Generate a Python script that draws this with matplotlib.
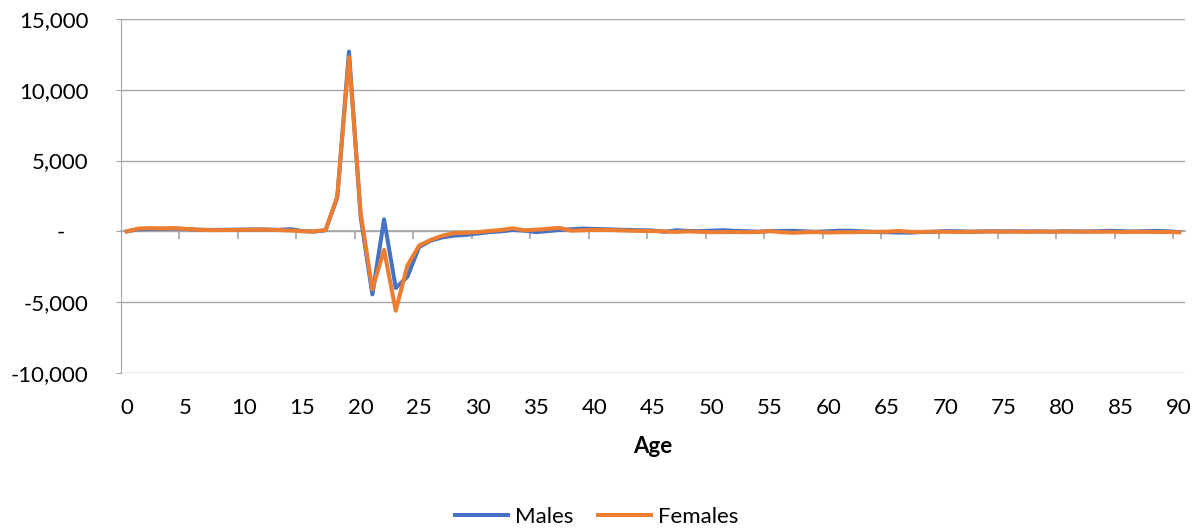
import numpy as np
import matplotlib
matplotlib.use("Agg")
import matplotlib.pyplot as plt
from matplotlib.ticker import FuncFormatter, MultipleLocator, FixedLocator

plt.rcParams['font.family'] = ['Lato', 'DejaVu Sans']

ages = list(range(0, 91))

males = [0, 150, 170, 180, 200, 170, 120, 100, 110, 120,
         130, 140, 130, 110, 160, 20, -20, 80, 2400, 12700,
         1000, -4450, 850, -4000, -3200, -1100, -650, -420, -300, -250,
         -150, -50, 0, 100, 50, -50, 20, 100, 150, 200,
         170, 150, 120, 100, 80, 60, -30, 80, 30, 20,
         50, 80, 40, 10, -20, 20, 30, 40, 0, -30,
         10, 50, 40, 0, -40, -60, -80, -90, -40, -30,
         20, 10, -20, -10, 10, 0, 10, -10, 0, -20,
         10, 0, -10, 10, 40, 20, -10, 10, 30, 10,
         -50]

females = [0, 200, 230, 210, 230, 180, 120, 90, 90, 100,
           110, 120, 120, 90, 60, 10, 0, 100, 2450, 12300,
           1300, -4100, -1300, -5600, -2400, -1000, -600, -300, -120, -100,
           -50, 30, 100, 220, 80, 120, 180, 250, 50, 80,
           100, 100, 80, 50, 30, 20, 0, -40, 0, -30,
           -60, -50, -40, -60, -40, 20, -60, -100, -60, -50,
           -80, -60, -60, -40, -30, -20, 30, -30, -40, -20,
           -30, -40, -30, -20, -10, -20, -20, -30, -10, -20,
           -20, -10, -20, -30, -20, -40, -30, -30, -40, -40,
           -60]

grid_col = '#a6a6a6'
fs = 16

fig = plt.figure(figsize=(11.93, 5.32), dpi=100)
ax = fig.add_axes([0.1014, 0.2989, 0.8919, 0.6654])

ax.plot(ages, males, color='#4472C4', lw=2.9, label='Males', solid_joinstyle='round')
ax.plot(ages, females, color='#ED7D31', lw=2.9, label='Females', solid_joinstyle='round')

ax.set_xlim(-0.5, 90.5)
ax.set_ylim(-10000, 15000)
ax.yaxis.set_major_locator(MultipleLocator(5000))

def yfmt(v, pos):
    if abs(v) < 1e-9:
        return '-    '
    return f'{v:,.0f}'

ax.yaxis.set_major_formatter(FuncFormatter(yfmt))
ax.grid(axis='y', color=grid_col, lw=1.0)
ax.set_axisbelow(True)

for s in ['top', 'right', 'bottom']:
    ax.spines[s].set_visible(False)
ax.spines['left'].set_color(grid_col)
ax.tick_params(axis='y', length=3.5, color=grid_col, pad=20, labelsize=fs, labelcolor='black')

ax.set_xticks(range(0, 91, 5))
ax.tick_params(axis='x', length=0, pad=18, labelsize=fs, labelcolor='black')
ax.set_xlabel('Age', fontsize=fs, fontweight='bold', labelpad=13)

# category axis line crossing at zero
zero_frac = (0 - (-10000)) / 25000
sec = ax.secondary_xaxis(zero_frac)
sec.spines['bottom'].set_color(grid_col)
sec.spines['bottom'].set_linewidth(1.2)
sec.xaxis.set_major_locator(FixedLocator(np.arange(4.5, 90, 5)))
sec.tick_params(axis='x', length=6, color=grid_col, labelbottom=False, width=1.2)

fig.legend(loc='lower center', bbox_to_anchor=(0.5, -0.028), ncol=2, frameon=False,
           fontsize=fs, handlelength=2.4, handletextpad=0.3, columnspacing=1.1)

fig.savefig('out.png', dpi=100)
